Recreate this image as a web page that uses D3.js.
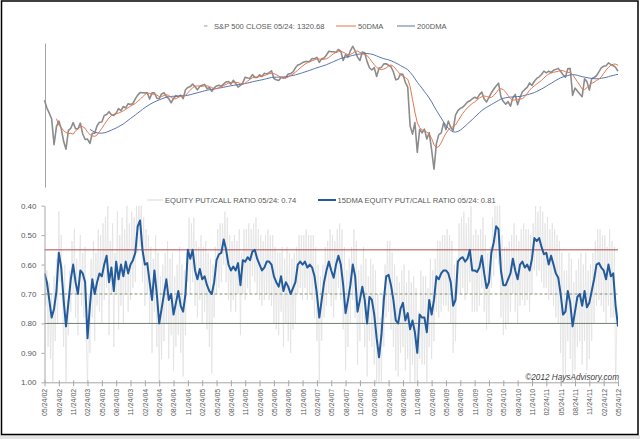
<!DOCTYPE html>
<html><head><meta charset="utf-8">
<script src="https://cdn.jsdelivr.net/npm/d3@7"></script>
<style>
html,body{margin:0;padding:0;background:#fff;}
svg{display:block;font-family:"Liberation Sans",Arial,sans-serif;}
</style></head>
<body>
<svg id="chart" width="640" height="439"></svg>
<script>
// x axis: semi-monthly periods (24th and 9th of each month) from 05/24/02 to 05/24/12, index 0..240
const tickLabels = ["05/24/02","08/24/02","11/24/02","02/24/03","05/24/03","08/24/03","11/24/03","02/24/04","05/24/04","08/24/04","11/24/04","02/24/05","05/24/05","08/24/05","11/24/05","02/24/06","05/24/06","08/24/06","11/24/06","02/24/07","05/24/07","08/24/07","11/24/07","02/24/08","05/24/08","08/24/08","11/24/08","02/24/09","05/24/09","08/24/09","11/24/09","02/24/10","05/24/10","08/24/10","11/24/10","02/24/11","05/24/11","08/24/11","11/24/11","02/24/12","05/24/12"];

// S&P 500 close, index 0..240
const spxClose = [
 1083,1027,992,953,800,905,940,893,819,776,882,895,930,892,892,
 927,861,829,832,807,865,865,911,933,934,976,983,1002,982,977,993,1023,1010,1038,1028,1058,1052,1060,1094,
 1122,1141,1140,1139,1140,1092,1139,1140,1098,1095,1131,1140,1112,1096,1065,1096,1118,1110,1122,1095,1164,1182,1189,1210,
 1187,1163,1191,1200,1207,1172,1181,1152,1178,1194,1200,1191,1211,1227,1231,1209,1241,1215,1185,1199,1221,1268,1260,1259,
 1290,1266,1265,1289,1273,1302,1296,1308,1324,1256,1245,1240,1265,1260,1265,1296,1299,1314,1351,1377,1385,1400,1409,1410,
 1412,1440,1438,1451,1402,1436,1444,1474,1512,1507,1507,1502,1531,1511,1420,1479,1453,1517,1565,1515,1453,1420,1504,1497,
 1409,1352,1331,1353,1274,1349,1355,1388,1389,1375,1361,1314,1245,1252,1296,1292,1224,1185,910,860,930,760,889,868,
 890,832,869,773,677,806,857,866,929,887,940,900,882,979,1010,1025,1033,1050,1071,1079,1093,1106,1096,1126,
 1145,1092,1071,1105,1140,1167,1194,1217,1110,1074,1055,1073,1040,1103,1127,1051,1104,1148,1166,1183,1219,1198,1233,1257,
 1271,1291,1321,1306,1321,1309,1328,1337,1346,1317,1289,1268,1344,1345,1120,1177,1154,1131,1110,1254,1230,1161,1255,1265,
 1280,1314,1351,1366,1371,1397,1383,1371,1355,1320
];
// 50-day moving average, index 5..240
const dma50Start = 5;
const dma50 = [
 955,915,900,880,870,863,865,860,880,890,
 904,905,895,872,858,850,847,855,875,895,918,940,960,975,985,988,993,1000,1008,1018,1030,1040,1050,1060,
 1075,1090,1108,1125,1138,1135,1130,1128,1123,1110,1110,1120,1125,1120,1105,1095,1095,1105,1112,1113,1120,1140,1160,1180,
 1192,1195,1193,1190,1195,1195,1190,1180,1172,1172,1180,1190,1197,1207,1217,1222,1223,1224,1222,1213,1208,1218,1235,1250,
 1262,1268,1270,1273,1276,1282,1290,1298,1302,1298,1290,1278,1266,1260,1261,1270,1282,1295,1312,1330,1350,1368,1385,1398,
 1408,1418,1427,1436,1434,1432,1432,1437,1450,1470,1488,1500,1508,1512,1502,1490,1478,1480,1492,1510,1515,1500,1490,1480,
 1470,1440,1410,1380,1355,1340,1335,1340,1350,1368,1378,1365,1340,1315,1290,1275,1265,1250,1190,1090,1000,930,900,885,
 878,872,860,835,800,785,790,810,840,865,885,900,905,915,940,965,990,1010,1030,1045,1060,1070,1085,1100,
 1110,1115,1112,1105,1105,1118,1140,1165,1172,1165,1145,1120,1095,1085,1085,1090,1092,1095,1110,1135,1160,1180,1195,1210,
 1225,1240,1260,1280,1295,1305,1310,1315,1320,1328,1325,1315,1310,1310,1290,1260,1230,1200,1170,1165,1180,1200,1215,1225,
 1240,1250,1270,1300,1330,1355,1375,1385,1385,1375
];
// 200-day moving average, index 19..240
const dma200Start = 19;
const dma200 = [
 888,880,872,868,866,866,868,872,878,884,890,897,905,913,922,933,945,957,968,980,
 993,1005,1018,1030,1042,1052,1062,1071,1079,1086,1093,1100,1106,1110,1112,1113,1114,1115,1116,1117,1118,1121,1125,1130,
 1135,1140,1145,1150,1155,1160,1164,1167,1170,1173,1177,1180,1184,1188,1192,1195,1199,1202,1205,1207,1210,1214,1218,1223,
 1228,1233,1237,1241,1245,1250,1255,1260,1265,1267,1268,1268,1269,1270,1272,1275,1279,1283,1288,1294,1300,1307,1314,1321,
 1328,1336,1344,1352,1358,1365,1372,1380,1390,1400,1410,1420,1430,1440,1446,1452,1458,1464,1470,1476,1481,1484,1487,1490,
 1490,1487,1482,1475,1465,1455,1446,1438,1432,1426,1418,1408,1396,1385,1372,1360,1348,1335,1310,1285,1255,1225,1200,1175,
 1150,1125,1100,1072,1040,1012,985,960,935,912,895,882,874,872,876,884,895,908,922,936,950,965,980,995,
 1010,1022,1032,1042,1052,1062,1072,1082,1092,1098,1102,1105,1107,1108,1110,1111,1112,1115,1120,1125,1130,1135,1142,1150,
 1160,1170,1180,1192,1205,1215,1228,1240,1252,1262,1270,1276,1282,1288,1290,1288,1284,1278,1272,1268,1264,1260,1257,1255,
 1254,1255,1258,1262,1266,1272,1278,1283,1288,1292
];

// 15DMA equity put/call ratio, index 0..240
const pc15 = [
 0.63,0.66,0.72,0.78,0.75,0.69,0.56,0.61,0.72,0.81,0.73,0.65,0.60,0.66,0.70,
 0.62,0.63,0.66,0.85,0.74,0.65,0.70,0.66,0.63,0.64,0.60,0.57,0.66,0.61,0.69,0.59,0.65,0.60,0.64,0.59,0.63,0.60,0.585,0.56,
 0.47,0.45,0.55,0.60,0.595,0.66,0.72,0.62,0.70,0.80,0.75,0.70,0.65,0.72,0.70,0.77,0.73,0.69,0.74,0.76,0.70,0.55,0.58,0.55,
 0.62,0.65,0.615,0.65,0.64,0.67,0.69,0.70,0.66,0.585,0.565,0.56,0.515,0.55,0.60,0.62,0.607,0.62,0.595,0.67,0.585,0.59,0.575,0.585,
 0.556,0.55,0.58,0.60,0.62,0.61,0.59,0.59,0.60,0.64,0.66,0.675,0.64,0.69,0.66,0.675,0.70,0.68,0.66,0.60,0.59,0.60,0.59,0.61,
 0.60,0.61,0.64,0.70,0.78,0.72,0.66,0.62,0.59,0.62,0.645,0.60,0.57,0.60,0.67,0.765,0.72,0.67,0.60,0.64,0.76,0.72,0.675,0.72,
 0.80,0.71,0.72,0.77,0.85,0.915,0.84,0.72,0.64,0.635,0.67,0.72,0.79,0.80,0.75,0.73,0.79,0.765,0.82,0.79,0.83,0.90,0.77,0.78,
 0.78,0.83,0.72,0.77,0.72,0.64,0.65,0.63,0.62,0.62,0.63,0.66,0.74,0.72,0.59,0.58,0.575,0.59,0.58,0.55,0.62,0.62,0.625,0.61,
 0.57,0.63,0.68,0.66,0.56,0.525,0.47,0.48,0.62,0.67,0.67,0.65,0.63,0.58,0.62,0.65,0.60,0.59,0.61,0.60,0.62,0.58,0.51,0.52,
 0.51,0.54,0.565,0.56,0.60,0.57,0.60,0.63,0.645,0.70,0.77,0.76,0.69,0.73,0.81,0.76,0.71,0.70,0.74,0.69,0.745,0.73,0.69,0.65,
 0.60,0.595,0.61,0.62,0.65,0.60,0.64,0.63,0.74,0.81
];
// daily equity put/call ratio, sampled twice per period (index 0..240 in steps of 0.5)
const pcRaw = [
 0.55,0.74,0.62,0.88,0.66,0.92,0.70,1.02,0.64,0.86,0.58,0.80,0.42,0.66,0.50,0.72,0.88,0.60,1.03,0.72,0.84,0.62,0.76,0.52,0.70,0.48,0.78,0.58,0.84,0.60,
 0.50,0.74,0.56,0.78,0.54,0.86,1.02,0.70,0.90,0.58,0.78,0.52,0.86,0.56,0.74,0.48,0.76,0.50,0.80,0.46,0.72,0.44,0.68,0.40,0.84,0.52,0.70,0.46,0.88,0.56,0.70,0.42,0.82,0.50,0.74,0.44,0.80,0.48,0.70,0.38,0.76,0.46,0.72,0.42,0.68,0.44,0.66,0.40,
 0.56,0.36,0.54,0.38,0.66,0.44,0.74,0.48,0.70,0.50,0.80,0.54,0.90,0.58,0.76,0.50,0.88,0.56,1.02,0.64,0.92,0.60,0.86,0.56,0.80,0.52,0.92,0.58,0.84,0.56,0.96,0.64,0.88,0.60,0.84,0.54,0.90,0.60,0.98,0.62,0.84,0.56,0.66,0.44,0.70,0.46,0.66,0.44,
 0.74,0.52,0.78,0.54,0.72,0.50,0.80,0.54,0.76,0.52,0.82,0.56,0.88,0.58,0.97,0.60,0.78,0.54,0.70,0.48,0.68,0.46,0.66,0.46,0.60,0.42,0.66,0.44,0.72,0.50,0.76,0.52,0.72,0.50,0.76,0.52,0.70,0.48,0.84,0.56,0.70,0.48,0.72,0.48,0.68,0.46,0.70,0.48,
 0.64,0.46,0.66,0.44,0.70,0.48,0.72,0.50,0.74,0.52,0.72,0.50,0.70,0.48,0.72,0.50,0.74,0.50,0.80,0.54,0.82,0.56,0.84,0.56,0.76,0.54,0.88,0.58,0.80,0.54,0.86,0.56,0.90,0.58,0.82,0.56,0.80,0.54,0.70,0.50,0.68,0.50,0.72,0.50,0.68,0.48,0.72,0.50,
 0.70,0.50,0.72,0.50,0.78,0.54,0.86,0.60,1.02,0.64,0.86,0.60,0.78,0.54,0.74,0.52,0.70,0.48,0.74,0.50,0.78,0.52,0.72,0.48,0.68,0.46,0.72,0.48,0.82,0.54,0.96,0.62,0.88,0.58,0.80,0.54,0.72,0.48,0.78,0.52,0.94,0.62,0.86,0.60,0.80,0.54,0.88,0.58,
 0.98,0.64,0.86,0.58,0.88,0.60,0.94,0.62,1.02,0.70,1.04,0.78,1.00,0.70,0.88,0.60,0.78,0.52,0.76,0.52,0.82,0.56,0.88,0.60,0.96,0.64,0.98,0.66,0.90,0.62,0.88,0.60,0.96,0.66,0.92,0.62,1.00,0.66,0.94,0.64,1.02,0.68,1.04,0.76,0.92,0.62,0.94,0.64,
 0.94,0.64,1.00,0.68,0.88,0.58,0.92,0.62,0.86,0.58,0.76,0.52,0.78,0.52,0.76,0.50,0.74,0.50,0.74,0.48,0.76,0.50,0.80,0.52,0.90,0.60,0.86,0.58,0.70,0.46,0.70,0.44,0.68,0.42,0.72,0.46,0.70,0.44,0.66,0.40,0.76,0.50,0.76,0.48,0.76,0.50,0.74,0.48,
 0.68,0.44,0.76,0.50,0.82,0.56,0.80,0.54,0.68,0.44,0.64,0.40,0.58,0.36,0.60,0.38,0.78,0.50,0.84,0.54,0.82,0.54,0.80,0.52,0.76,0.50,0.70,0.46,0.76,0.50,0.80,0.52,0.74,0.48,0.72,0.46,0.74,0.48,0.72,0.48,0.76,0.50,0.70,0.46,0.62,0.40,0.64,0.42,
 0.62,0.40,0.66,0.42,0.68,0.46,0.68,0.44,0.72,0.48,0.70,0.46,0.74,0.48,0.78,0.50,0.80,0.52,0.90,0.56,1.02,0.62,0.98,0.62,0.86,0.56,0.92,0.58,1.04,0.66,0.96,0.62,0.88,0.58,0.86,0.56,0.94,0.60,0.86,0.56,0.96,0.62,0.92,0.60,0.86,0.56,0.80,0.52,
 0.74,0.48,0.72,0.48,0.74,0.50,0.76,0.50,0.80,0.54,0.74,0.48,0.78,0.52,0.78,0.54,1.02,0.80,0.74
];
const yTicks = [0.40,0.50,0.60,0.70,0.80,0.90,1.00];
const refLevels = [0.55, 0.70, 0.80];
const legendTop = ["S&P 500 CLOSE 05/24: 1320.68", "50DMA", "200DMA"];
const legendBottom = ["EQUITY PUT/CALL RATIO 05/24: 0.74", "15DMA EQUITY PUT/CALL RATIO 05/24: 0.81"];
const credit = "\u00A92012 HaysAdvisory.com";

const svg = d3.select("#chart");
const txt = "#595959";

// background strip and frame
svg.append("rect").attr("x",0).attr("y",435).attr("width",640).attr("height",4).attr("fill","#e4e4e4");
svg.append("rect").attr("x",1.5).attr("y",1).attr("width",636.5).attr("height",433.5)
  .attr("fill","none").attr("stroke","#000").attr("stroke-width",1.5);

const x = d3.scaleLinear().domain([0,240]).range([44.5,618]);
const yTop = d3.scaleLog().domain([600,1600]).range([187,43]);
const yBot = d3.scaleLinear().domain([0.4,1.0]).range([205.7,382.3]);

// ---------- top chart ----------
const gTopAxis = svg.append("g").attr("transform","translate(45,0)")
  .call(d3.axisLeft(yTop).tickValues([]).tickSizeOuter(0));
gTopAxis.select(".domain").attr("stroke","#a6a6a6");

const lineTop = (start) => d3.line().x((d,i)=>x(i+start)).y(d=>yTop(d));
svg.append("path").datum(spxClose).attr("d",lineTop(0)).attr("fill","none")
  .attr("stroke","#8c8c8c").attr("stroke-width",1.6).attr("stroke-linejoin","round");
svg.append("path").datum(dma200).attr("d",lineTop(dma200Start)).attr("fill","none")
  .attr("stroke","#5874ad").attr("stroke-width",1);
svg.append("path").datum(dma50).attr("d",lineTop(dma50Start)).attr("fill","none")
  .attr("stroke","#e3774f").attr("stroke-width",1);

// top legend
const lt = svg.append("g").attr("font-size",7.6).attr("fill",txt);
lt.append("line").attr("x1",204).attr("x2",207.5).attr("y1",26).attr("y2",26).attr("stroke","#999").attr("stroke-width",1);
lt.append("text").attr("x",214).attr("y",28.8).text(legendTop[0]);
lt.append("line").attr("x1",336).attr("x2",356).attr("y1",26).attr("y2",26).attr("stroke","#e3774f");
lt.append("text").attr("x",358).attr("y",28.8).text(legendTop[1]);
lt.append("line").attr("x1",397).attr("x2",415).attr("y1",26).attr("y2",26).attr("stroke","#5874ad");
lt.append("text").attr("x",417).attr("y",28.8).text(legendTop[2]);

// ---------- bottom chart ----------
svg.append("clipPath").attr("id","clipB").append("rect")
  .attr("x",44.5).attr("y",205.7).attr("width",573.5).attr("height",176.6);

svg.append("path").datum(pcRaw).attr("clip-path","url(#clipB)")
  .attr("d",d3.line().x((d,i)=>x(i/2)).y(d=>yBot(d)))
  .attr("fill","none").attr("stroke","#e0e0e0").attr("stroke-width",0.7);

const refStyle = [
  {c:"#b04a4a", dash:null},
  {c:"#7f8f68", dash:"3,2"},
  {c:"#6f806f", dash:null}
];
svg.selectAll(".ref").data(refLevels).join("line").attr("class","ref")
  .attr("x1",44.5).attr("x2",618).attr("y1",d=>yBot(d)).attr("y2",d=>yBot(d))
  .attr("stroke",(d,i)=>refStyle[i].c).attr("stroke-width",1)
  .attr("stroke-dasharray",(d,i)=>refStyle[i].dash);

svg.append("path").datum(pc15).attr("clip-path","url(#clipB)")
  .attr("d",d3.line().x((d,i)=>x(i)).y(d=>yBot(d)))
  .attr("fill","none").attr("stroke","#235b9b").attr("stroke-width",2).attr("stroke-linejoin","round");

// y axis
const gy = svg.append("g").attr("transform","translate(44.5,0)")
  .call(d3.axisLeft(yBot).tickValues(yTicks).tickFormat(d3.format(".2f")).tickSizeInner(3).tickSizeOuter(0).tickPadding(5));
gy.select(".domain").attr("stroke","#a6a6a6");
gy.selectAll(".tick line").attr("stroke","#a6a6a6");
gy.selectAll("text").attr("fill",txt).attr("font-size",8).attr("font-family",'"Liberation Sans",Arial,sans-serif');

// x axis
const gx = svg.append("g").attr("transform","translate(0,382.3)")
  .call(d3.axisBottom(x).tickValues(d3.range(0,241,6)).tickFormat((d,i)=>tickLabels[i]).tickSizeInner(4).tickSizeOuter(0));
gx.select(".domain").attr("stroke","#a6a6a6");
gx.selectAll(".tick line").attr("stroke","#a6a6a6").attr("y1",-2);
gx.selectAll("text").attr("fill",txt).attr("font-size",7).attr("font-family",'"Liberation Sans",Arial,sans-serif')
  .attr("transform","rotate(-90)").attr("x",-6.5).attr("y",0).attr("dy","0.35em").style("text-anchor","end");

// bottom legend
const lb = svg.append("g").attr("font-size",7.6).attr("fill",txt);
lb.append("line").attr("x1",147).attr("x2",163).attr("y1",200).attr("y2",200).attr("stroke","#d9d9d9").attr("stroke-width",1);
lb.append("text").attr("x",165).attr("y",202.8).text(legendBottom[0]);
lb.append("line").attr("x1",318).attr("x2",336).attr("y1",200).attr("y2",200).attr("stroke","#235b9b").attr("stroke-width",2);
lb.append("text").attr("x",337.5).attr("y",202.8).text(legendBottom[1]);

// credit
svg.append("text").attr("x",619).attr("y",379.5).attr("text-anchor","end")
  .attr("font-size",8.2).attr("font-style","italic").attr("fill","#404040").text(credit);
</script>
</body></html>
